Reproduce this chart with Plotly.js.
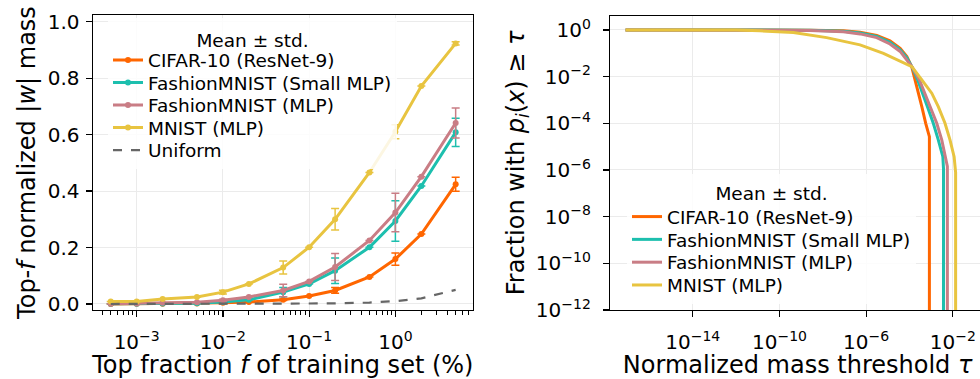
<!DOCTYPE html>
<html>
<head>
<meta charset="utf-8">
<script src="https://cdn.plot.ly/plotly-3.0.1.min.js"></script>
<style>
html, body { margin: 0; padding: 0; overflow: hidden; background: #fff; }
#chart { width: 1000px; height: 379px; }
</style>
</head>
<body>
<div id="chart"></div>
<script>
// ---------- Left panel: top-f normalized |w| mass ----------
const topFraction = [0.0005, 0.001, 0.002, 0.005, 0.01, 0.02, 0.05, 0.1, 0.2, 0.5, 1, 2, 5];

const cifarMass   = [0.000, 0.001, 0.001, 0.002, 0.004, 0.007, 0.015, 0.028, 0.048, 0.096, 0.159, 0.248, 0.424];
const cifarStd    = [null, null, null, null, 0.003, null, 0.003, null, 0.010, null, 0.022, null, 0.025];

const fmSmallMass = [0.001, 0.001, 0.002, 0.003, 0.007, 0.015, 0.042, 0.071, 0.118, 0.201, 0.294, 0.418, 0.608];
const fmSmallStd  = [null, null, null, null, 0.003, null, 0.016, null, 0.045, null, 0.072, null, 0.050];

const fmMlpMass   = [0.001, 0.002, 0.004, 0.006, 0.013, 0.025, 0.048, 0.080, 0.131, 0.225, 0.324, 0.451, 0.641];
const fmMlpStd    = [null, null, null, null, 0.004, null, 0.022, null, 0.048, null, 0.068, null, 0.053];

const mnistMass   = [0.009, 0.009, 0.018, 0.025, 0.042, 0.071, 0.129, 0.201, 0.300, 0.466, 0.610, 0.772, 0.923];
const mnistStd    = [null, null, null, null, 0.007, null, 0.023, null, 0.038, null, 0.025, null, 0.006];

const uniformMass = [0.000005, 0.00001, 0.00002, 0.00005, 0.0001, 0.0002, 0.0005, 0.001, 0.002, 0.005, 0.01, 0.02, 0.05];

const leftXTickVals = [0.001, 0.01, 0.1, 1];
const leftXTickText = ['10<sup>−3</sup>', '10<sup>−2</sup>', '10<sup>−1</sup>', '10<sup>0</sup>'];
const leftYTickVals = [0, 0.2, 0.4, 0.6, 0.8, 1.0];

// ---------- Right panel: fraction with p_i(x) >= tau ----------
const cifarTau  = [7.94e-18, 1.26e-11, 2.63e-9, 8.91e-8, 5.25e-7, 3.09e-6, 1.26e-5, 3.72e-5, 7.59e-5, 1.29e-4, 2.34e-4, 3.72e-4, 5.62e-4, 8.32e-4, 8.32e-4];
const cifarFrac = [1, 1, 0.977, 0.912, 0.794, 0.575, 0.339, 0.162, 0.0724, 0.0251, 3.16e-3, 5.13e-4, 1.0e-4, 2.69e-5, 1e-14];

const fmSmallTau  = [7.94e-18, 1.26e-11, 2.63e-9, 8.91e-8, 5.25e-7, 3.09e-6, 1.26e-5, 3.72e-5, 7.59e-5, 1.29e-4, 2.40e-4, 6.76e-4, 1.26e-3, 2.14e-3, 3.47e-3, 3.72e-3, 3.72e-3];
const fmSmallFrac = [1, 1, 0.977, 0.871, 0.741, 0.525, 0.295, 0.141, 0.0631, 0.0269, 7.24e-3, 5.13e-4, 1.0e-4, 1.95e-5, 3.72e-6, 1.17e-6, 1e-14];

const fmMlpTau  = [7.94e-18, 1.26e-11, 2.63e-9, 8.91e-8, 5.25e-7, 3.09e-6, 1.26e-5, 3.72e-5, 8.91e-5, 1.29e-4, 2.88e-4, 8.91e-4, 1.82e-3, 3.09e-3, 4.37e-3, 5.62e-3, 5.62e-3];
const fmMlpFrac = [1, 1, 0.955, 0.832, 0.676, 0.468, 0.251, 0.120, 0.0437, 0.0269, 7.24e-3, 5.13e-4, 1.0e-4, 1.95e-5, 3.72e-6, 1.41e-6, 1e-14];

const mnistTau  = [7.94e-18, 1e-12, 1.26e-11, 4.37e-10, 1.51e-8, 5.25e-7, 6.31e-6, 3.72e-5, 1.29e-4, 3.72e-4, 1.07e-3, 2.14e-3, 4.37e-3, 7.41e-3, 1.15e-2, 1.35e-2, 1.35e-2];
const mnistFrac = [1, 1, 0.912, 0.776, 0.468, 0.229, 0.1, 0.0468, 0.0269, 7.24e-3, 1.95e-3, 5.13e-4, 1.0e-4, 1.95e-5, 3.72e-6, 7.94e-7, 1e-14];

const rightXTickVals = [1e-14, 1e-10, 1e-6, 1e-2];
const rightXTickText = ['10<sup>−14</sup>', '10<sup>−10</sup>', '10<sup>−6</sup>', '10<sup>−2</sup>'];
const rightYTickVals = [1, 1e-2, 1e-4, 1e-6, 1e-8, 1e-10, 1e-12];
const rightYTickText = ['10<sup>0</sup>', '10<sup>−2</sup>', '10<sup>−4</sup>', '10<sup>−6</sup>', '10<sup>−8</sup>', '10<sup>−10</sup>', '10<sup>−12</sup>'];

const seriesNames = ['CIFAR-10 (ResNet-9)', 'FashionMNIST (Small MLP)', 'FashionMNIST (MLP)', 'MNIST (MLP)'];
const colors = ['#FF6600', '#1DBFAE', '#C97D85', '#E8C440'];

const leftMass = [cifarMass, fmSmallMass, fmMlpMass, mnistMass];
const leftStd = [cifarStd, fmSmallStd, fmMlpStd, mnistStd];
const rightTau = [cifarTau, fmSmallTau, fmMlpTau, mnistTau];
const rightFrac = [cifarFrac, fmSmallFrac, fmMlpFrac, mnistFrac];

const traces = [];
for (let i = 0; i < 4; i++) {
  traces.push({
    type: 'scatter', mode: 'lines+markers', name: seriesNames[i],
    x: topFraction, y: leftMass[i], xaxis: 'x', yaxis: 'y', legend: 'legend',
    line: { color: colors[i], width: 3 },
    marker: { color: colors[i], size: 6 },
    error_y: { type: 'data', array: leftStd[i], visible: true, color: colors[i], thickness: 1.5, width: 4 }
  });
}
traces.push({
  type: 'scatter', mode: 'lines', name: 'Uniform',
  x: topFraction, y: uniformMass, xaxis: 'x', yaxis: 'y', legend: 'legend',
  line: { color: '#666666', width: 2.2, dash: 'dash' }
});
for (let i = 0; i < 4; i++) {
  traces.push({
    type: 'scatter', mode: 'lines', name: seriesNames[i],
    x: rightTau[i], y: rightFrac[i], xaxis: 'x2', yaxis: 'y2', legend: 'legend2',
    line: { color: colors[i], width: 3 }
  });
}

const W = 1000, H = 379;
const axisCommon = {
  showline: true, linecolor: '#000', linewidth: 1.2, mirror: true,
  ticks: 'outside', ticklen: 6, tickwidth: 1.2, tickcolor: '#000',
  showgrid: true, gridcolor: '#ebebeb', gridwidth: 1, zeroline: false,
  tickfont: { size: 20, color: '#000' }
};

const layout = {
  width: W, height: H,
  margin: { l: 0, r: 0, t: 0, b: 0 },
  paper_bgcolor: '#fff', plot_bgcolor: '#fff',
  font: { family: 'DejaVu Sans, sans-serif', color: '#000' },
  xaxis: Object.assign({}, axisCommon, {
    type: 'log', domain: [92.7 / W, 473 / W], range: [-3.51, 0.90], anchor: 'y',
    tickmode: 'array', tickvals: leftXTickVals, ticktext: leftXTickText,
    ticklabelstandoff: 8,
    minor: { ticks: 'outside', ticklen: 3.5, tickwidth: 1, tickcolor: '#000', dtick: 'D1', showgrid: false },
    title: { text: 'Top fraction <i>f</i> of training set (%)', font: { size: 24 }, standoff: 9 }
  }),
  yaxis: Object.assign({}, axisCommon, {
    domain: [(H - 310) / H, (H - 15) / H], range: [-0.0213, 1.0237], anchor: 'x',
    tickmode: 'array', tickvals: leftYTickVals, tickformat: '.1f',
    ticklabelstandoff: 2,
    title: { text: 'Top-<i>f</i> normalized |<i>w</i>| mass', font: { size: 24 }, standoff: 5 }
  }),
  xaxis2: Object.assign({}, axisCommon, {
    type: 'log', domain: [610 / W, 985.3 / W], range: [-17.82, -0.5], anchor: 'y2',
    tickmode: 'array', tickvals: rightXTickVals, ticktext: rightXTickText,
    ticklabelstandoff: 8,
    title: { text: 'Normalized mass threshold <i>τ</i>', font: { size: 24 }, standoff: 9 }
  }),
  yaxis2: Object.assign({}, axisCommon, {
    type: 'log', domain: [(H - 310) / H, (H - 15.7) / H], range: [-12, 0.61], anchor: 'x2',
    tickmode: 'array', tickvals: rightYTickVals, ticktext: rightYTickText,
    ticklabelstandoff: 8,
    title: { text: 'Fraction with <i>p<sub>i</sub></i>(<i>x</i>) ≥ <i>τ</i>', font: { size: 24 }, standoff: 4 }
  }),
  legend: {
    x: 108 / W, xanchor: 'left', y: (H - 17.5) / H, yanchor: 'top',
    bgcolor: 'rgba(255,255,255,0.85)', borderwidth: 0,
    font: { size: 18.5, color: '#000' },
    title: { text: 'Mean ± std.', side: 'top center', font: { size: 18.5 } },
    tracegroupgap: 0, itemwidth: 30
  },
  legend2: {
    x: 627 / W, xanchor: 'left', y: (H - 174) / H, yanchor: 'top',
    bgcolor: 'rgba(255,255,255,0.85)', borderwidth: 0,
    font: { size: 18.5, color: '#000' },
    title: { text: 'Mean ± std.', side: 'top center', font: { size: 18.5 } },
    tracegroupgap: 0, itemwidth: 30
  },
  showlegend: true
};

// Tighten legend row spacing to match the reference (matplotlib-like spacing).
function tightenLegend(cls, spacing, titleShift) {
  const leg = document.querySelector('g.' + cls);
  if (!leg) return;
  const items = leg.querySelectorAll('g.traces');
  if (items.length < 2) return;
  const parse = el => {
    const m = /translate\(\s*([-\d.e]+)[ ,]+([-\d.e]+)/.exec(el.getAttribute('transform') || '');
    return m ? [parseFloat(m[1]), parseFloat(m[2])] : [0, 0];
  };
  const p0 = parse(items[0]);
  const pl = parse(items[items.length - 1]);
  const orig = (pl[1] - p0[1]) / (items.length - 1);
  items.forEach((el, i) => {
    const p = parse(el);
    el.setAttribute('transform', 'translate(' + p[0] + ',' + (p0[1] + i * spacing) + ')');
  });
  const shrink = (orig - spacing) * (items.length - 1);
  const bg = leg.querySelector('rect.bg');
  if (bg) bg.setAttribute('height', parseFloat(bg.getAttribute('height')) - shrink);
  if (titleShift) {
    leg.querySelectorAll('text').forEach(t => {
      if ((t.textContent || '').indexOf('Mean') === 0) {
        const y0 = parseFloat(t.getAttribute('y') || '0');
        t.setAttribute('y', y0 + titleShift);
        t.querySelectorAll('tspan[y]').forEach(ts => {
          ts.setAttribute('y', parseFloat(ts.getAttribute('y')) + titleShift);
        });
      }
    });
  }
}

Plotly.newPlot('chart', traces, layout, { displayModeBar: false, staticPlot: true }).then(() => {
  tightenLegend('legend', 22.5, 5);
  tightenLegend('legend2', 22.8, 2);
});
</script>
</body>
</html>
